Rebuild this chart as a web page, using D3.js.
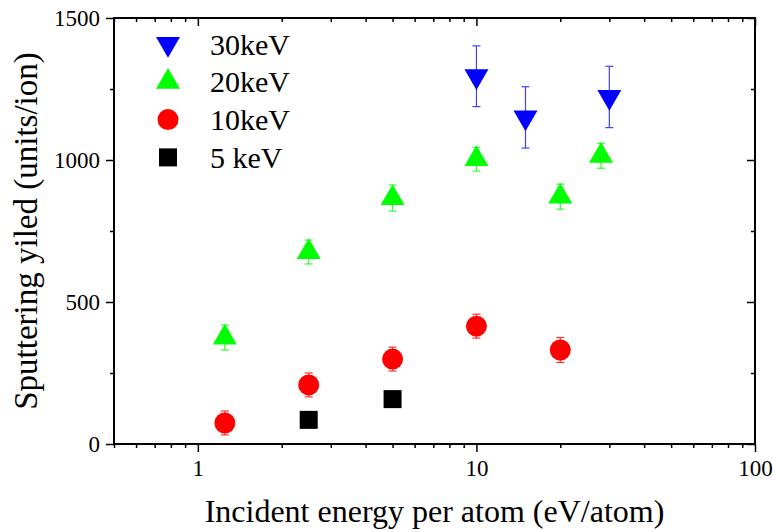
<!DOCTYPE html>
<html>
<head>
<meta charset="utf-8">
<script src="https://cdn.jsdelivr.net/npm/d3@7"></script>
<style>
  html, body { margin: 0; padding: 0; background: #fff; }
  svg text { font-family: "Liberation Serif", "Times New Roman", serif; }
</style>
</head>
<body>
<svg id="chart" width="773" height="532"></svg>
<script>
// Sputtering yield vs incident energy per atom, one series per cluster energy
const energies30 = [10, 15, 30];
const yield30 = [1295, 1150, 1222];
const err30 = [107, 108, 108];

const energies20 = [1.25, 2.5, 5, 10, 20, 28];
const yield20 = [375, 676, 866, 1003, 871, 1015];
const err20 = [44, 42, 46, 42, 44, 44];

const energies10 = [1.25, 2.5, 5, 10, 20];
const yield10 = [74, 208, 299, 415, 331];
const err10 = [42, 42, 42, 42, 44];

const energies5 = [2.5, 5];
const yield5 = [85, 158];

const seriesNames = ["30keV", "20keV", "10keV", "5 keV"];
const xTickValues = [1, 10, 100];
const yTickValues = [0, 500, 1000, 1500];
const yMinorValues = [250, 750, 1250];

const FONT = "'Liberation Serif', 'Times New Roman', serif";

const svg = d3.select("#chart");
const L = 114, R = 755, T = 18, B = 444;

const x = d3.scaleLog().domain([0.5, 100]).range([L, R]);
const y = d3.scaleLinear().domain([0, 1500]).range([B, T]);

// marker shapes (triangles centred on their centroid)
const triSide = 24, triH = triSide * Math.sqrt(3) / 2;
function triDown(cx, cy) {
  return `M${cx - triSide / 2},${cy - triH / 3}L${cx + triSide / 2},${cy - triH / 3}L${cx},${cy + 2 * triH / 3}Z`;
}
function triUp(cx, cy) {
  return `M${cx - triSide / 2},${cy + triH / 3}L${cx + triSide / 2},${cy + triH / 3}L${cx},${cy - 2 * triH / 3}Z`;
}

const series = [
  { name: seriesNames[0], xs: energies30, ys: yield30, es: err30, color: "#0000ff", errColor: "#4040ff", shape: "down" },
  { name: seriesNames[1], xs: energies20, ys: yield20, es: err20, color: "#00ff00", errColor: "#30ff30", shape: "up" },
  { name: seriesNames[2], xs: energies10, ys: yield10, es: err10, color: "#ff0000", errColor: "#ff3030", shape: "circle" },
  { name: seriesNames[3], xs: energies5, ys: yield5, es: null, color: "#000000", errColor: "#000", shape: "square" }
];

function drawMarker(g, shape, cx, cy, color) {
  if (shape === "down") g.append("path").attr("d", triDown(cx, cy)).attr("fill", color);
  else if (shape === "up") g.append("path").attr("d", triUp(cx, cy)).attr("fill", color);
  else if (shape === "circle") g.append("circle").attr("cx", cx).attr("cy", cy).attr("r", 10.5).attr("fill", color);
  else g.append("rect").attr("x", cx - 9).attr("y", cy - 9).attr("width", 18).attr("height", 18).attr("fill", color);
}

// data: error bars then markers
const plot = svg.append("g");
series.slice().reverse().forEach(s => {
  const g = plot.append("g");
  s.xs.forEach((xv, i) => {
    const cx = x(xv), cy = y(s.ys[i]);
    if (s.es) {
      const top = y(s.ys[i] + s.es[i]), bot = y(s.ys[i] - s.es[i]);
      g.append("line").attr("x1", cx).attr("x2", cx).attr("y1", top).attr("y2", bot)
        .attr("stroke", s.errColor).attr("stroke-width", 1.2);
      [top, bot].forEach(yy => g.append("line").attr("x1", cx - 4).attr("x2", cx + 4)
        .attr("y1", yy).attr("y2", yy).attr("stroke", s.errColor).attr("stroke-width", 1.2));
    }
    drawMarker(g, s.shape, cx, cy, s.color);
  });
});

// axes
const minorX = [0.5];
[0.1, 1, 10].forEach(d => { for (let k = 2; k <= 9; k++) { const v = d * k; if (v > 0.5 && v < 100) minorX.push(v); } });

const axisStyle = g => {
  g.attr("font-family", null).attr("font-size", null);
  g.select(".domain").remove();
  g.selectAll("line").attr("stroke", "#000").attr("stroke-width", 1.5);
  g.selectAll("text").attr("fill", "#000").style("font-size", "23px").style("font-family", FONT);
};

// bottom: outward ticks with labels
svg.append("g").attr("transform", `translate(0,${B})`)
  .call(d3.axisBottom(x).tickValues(xTickValues).tickFormat(d3.format("d")).tickSize(8).tickPadding(8))
  .call(axisStyle);
svg.append("g").attr("transform", `translate(0,${B})`)
  .call(d3.axisBottom(x).tickValues(minorX).tickFormat("").tickSize(4))
  .call(axisStyle);
// top: inward ticks
svg.append("g").attr("transform", `translate(0,${T})`)
  .call(d3.axisBottom(x).tickValues(xTickValues).tickFormat("").tickSize(8))
  .call(axisStyle);
svg.append("g").attr("transform", `translate(0,${T})`)
  .call(d3.axisBottom(x).tickValues(minorX).tickFormat("").tickSize(4))
  .call(axisStyle);
// left: outward ticks with labels
svg.append("g").attr("transform", `translate(${L},0)`)
  .call(d3.axisLeft(y).tickValues(yTickValues).tickFormat(d3.format("d")).tickSize(8).tickPadding(6))
  .call(axisStyle);
svg.append("g").attr("transform", `translate(${L},0)`)
  .call(d3.axisLeft(y).tickValues(yMinorValues).tickFormat("").tickSize(4))
  .call(axisStyle);
// right: inward ticks
svg.append("g").attr("transform", `translate(${R},0)`)
  .call(d3.axisLeft(y).tickValues(yTickValues).tickFormat("").tickSize(8))
  .call(axisStyle);
svg.append("g").attr("transform", `translate(${R},0)`)
  .call(d3.axisLeft(y).tickValues(yMinorValues).tickFormat("").tickSize(4))
  .call(axisStyle);

// frame
svg.append("rect").attr("x", L).attr("y", T).attr("width", R - L).attr("height", B - T)
  .attr("fill", "none").attr("stroke", "#000").attr("stroke-width", 2);

// axis titles
svg.append("text").attr("x", (L + R) / 2).attr("y", 522).attr("text-anchor", "middle")
  .style("font-family", FONT).style("font-size", "32px").text("Incident energy per atom (eV/atom)");
svg.append("text").attr("transform", `translate(37,${(T + B) / 2}) rotate(-90)`)
  .attr("text-anchor", "middle")
  .style("font-family", FONT).style("font-size", "33px").text("Sputtering yiled (units/ion)");

// legend
const legend = svg.append("g");
series.forEach((s, i) => {
  const cy = 44 + i * 37.8;
  drawMarker(legend, s.shape, 168, cy, s.color);
  legend.append("text").attr("x", 210).attr("y", cy).attr("dy", "0.35em")
    .style("font-family", FONT).style("font-size", "30px").text(s.name);
});
</script>
</body>
</html>
